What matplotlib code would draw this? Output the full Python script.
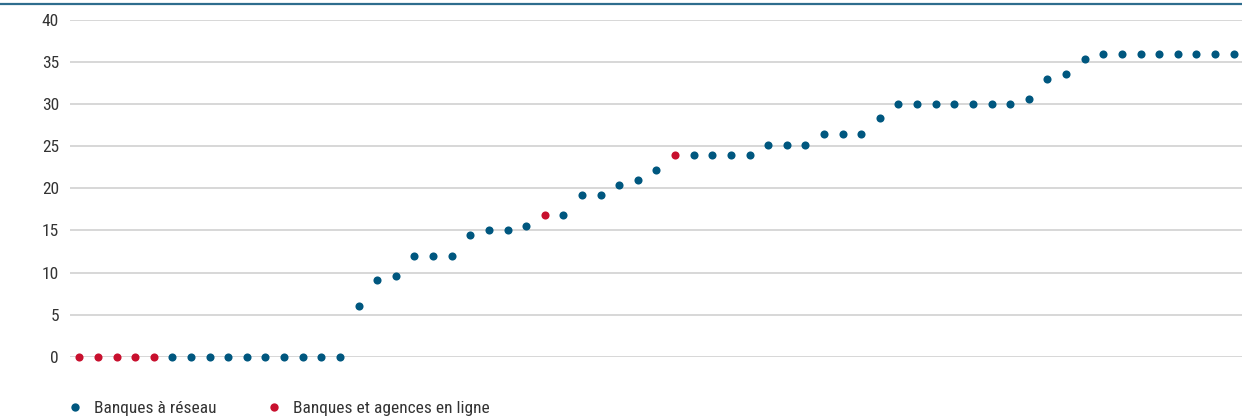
import matplotlib
matplotlib.use("Agg")
import matplotlib.pyplot as plt
from matplotlib.lines import Line2D
import matplotlib.font_manager as fm

# Data
values = [0, 0, 0, 0, 0, 0, 0, 0, 0, 0, 0, 0, 0, 0, 0,
          6.0, 9.1, 9.6, 12, 12, 12, 14.4, 15, 15, 15.5, 16.8, 16.8,
          19.2, 19.2, 20.4, 21.0, 22.2, 24, 24, 24, 24, 24,
          25.2, 25.2, 25.2, 26.4, 26.4, 26.4, 28.4,
          30, 30, 30, 30, 30, 30, 30, 30.6, 33.0, 33.6, 35.4,
          36, 36, 36, 36, 36, 36, 36, 36]
online_idx = [0, 1, 2, 3, 4, 25, 32]
series_labels = ["Banques à réseau", "Banques et agences en ligne"]
yticks = [0, 5, 10, 15, 20, 25, 30, 35, 40]

BLUE = "#00577f"
RED = "#c8102e"
TEXT = "#333333"

names = {f.name for f in fm.fontManager.ttflist}
fam = ["Roboto Condensed", "Liberation Sans Narrow", "Liberation Sans", "DejaVu Sans"]
fam = [f for f in fam if f in names] + ["DejaVu Sans"]
plt.rcParams['font.family'] = fam

FS = 12.5

fig = plt.figure(figsize=(12.42, 4.19), dpi=100)
ax = fig.add_axes([70/1242, (419-356.7)/419, 1 - 70/1242, (356.7-20)/419])

x_all = list(range(len(values)))
xb = [i for i in x_all if i not in online_idx]
yb = [values[i] for i in xb]
xr = online_idx
yr = [values[i] for i in xr]

ax.scatter(xb, yb, s=34, color=BLUE, zorder=3, clip_on=False, linewidths=0)
ax.scatter(xr, yr, s=34, color=RED, zorder=3, clip_on=False, linewidths=0)

ax.set_xlim(-0.5, 62.45)
ax.set_ylim(0, 40)
ax.set_yticks(yticks)
ax.set_yticklabels([str(t) for t in yticks], fontsize=FS, color=TEXT)
ax.tick_params(axis='y', length=0, pad=8)
ax.set_xticks([])
ax.grid(axis='y', color="#d4d4d4", linewidth=1.3, zorder=0)
ax.set_axisbelow(True)
for s in ax.spines.values():
    s.set_visible(False)

# top rule
fig.add_artist(Line2D([0, 1], [1 - 4/419, 1 - 4/419], transform=fig.transFigure,
                      color="#2e6d8e", linewidth=1.6))

# legend
handles = [Line2D([], [], marker='o', linestyle='none', markersize=6, color=BLUE, markeredgewidth=0),
           Line2D([], [], marker='o', linestyle='none', markersize=6, color=RED, markeredgewidth=0)]
leg = fig.legend(handles, series_labels, loc='lower left', bbox_to_anchor=(51/1242, -0.03),
                 ncol=2, frameon=False, fontsize=FS, handlelength=1.0, handletextpad=0.59,
                 columnspacing=2.78, labelcolor=TEXT)

fig.savefig("out.png", dpi=100)
